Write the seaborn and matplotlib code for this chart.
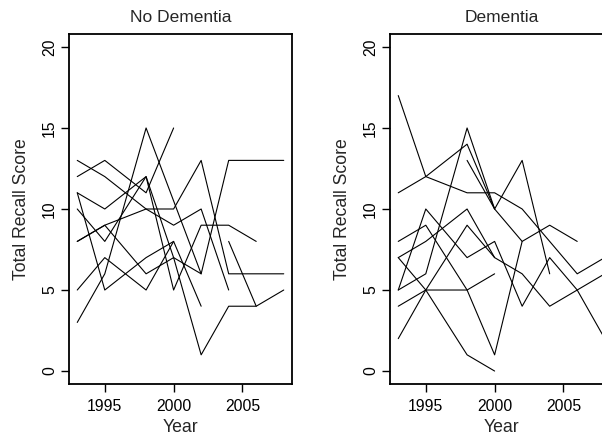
import numpy as np
import pandas as pd
import matplotlib
matplotlib.use("Agg")
import matplotlib.pyplot as plt
import seaborn as sns

years = [1993, 1995, 1998, 2000, 2002, 2004, 2006, 2008]
N = None

# No Dementia subjects (score per year, None = not observed)
nd_A = [12, 13, 11, 15, N, N, N, N]
nd_B = [13, 12, 10, 9, 10, 5, N, N]
nd_C = [3, 6, 15, N, 6, 13, 13, 13]
nd_D = [11, 10, 12, 5, 9, 9, 8, N]
nd_E = [11, 5, 7, 8, 4, N, N, N]
nd_F = [10, 8, 12, 7, 6, N, N, N]
nd_G = [8, 9, 10, 10, 13, 6, 6, 6]
nd_H = [8, 9, 6, 7, 1, 4, 4, 5]
nd_I = [5, 7, 5, 8, N, N, N, N]
nd_J = [N, N, N, N, N, 8, 4, N]

# Dementia subjects
de_A = [17, 12, 11, 11, 10, 8, 6, 7]
de_B = [11, 12, 14, 10, 8, 9, 8, N]
de_C = [5, 6, 15, 10, 13, 6, N, N]
de_D = [5, 10, 7, 8, 4, 7, 5, 2]
de_E = [8, 9, 5, 1, 8, N, N, N]
de_F = [2, 5, 9, 7, N, N, N, N]
de_G = [7, 8, 10, 7, 6, 4, 5, 6]
de_H = [4, 5, 5, 6, N, N, N, N]
de_I = [7, 5, 1, 0, N, N, N, N]
de_J = [N, N, 13, 10, N, N, N, N]

groups = {
    "No Dementia": [nd_A, nd_B, nd_C, nd_D, nd_E, nd_F, nd_G, nd_H, nd_I, nd_J],
    "Dementia": [de_A, de_B, de_C, de_D, de_E, de_F, de_G, de_H, de_I, de_J],
}

rows = []
for g, subjects in groups.items():
    for i, s in enumerate(subjects):
        for yr, v in zip(years, s):
            if v is not None:
                rows.append({"group": g, "subject": f"{g}_{i}", "Year": yr, "score": v})
df = pd.DataFrame(rows)

sns.set_style("white")
plt.rcParams["font.family"] = ["Liberation Sans", "DejaVu Sans"]

W, H = 602, 436
fig = plt.figure(figsize=(W / 100, H / 100), dpi=100)
axL = fig.add_axes([69 / W, (H - 384) / H, 223 / W, 350 / H])
axR = fig.add_axes([390 / W, (H - 384) / H, 223 / W, 350 / H])

for ax, g in [(axL, "No Dementia"), (axR, "Dementia")]:
    sub = df[df["group"] == g]
    sns.lineplot(data=sub, x="Year", y="score", units="subject", estimator=None,
                 color="black", lw=0.8, ax=ax, sort=True, legend=False)
    ax.set_xlim(1992.4, 2008.6)
    ax.set_ylim(-0.8, 20.8)
    ax.set_xticks([1995, 2000, 2005])
    ax.set_yticks([0, 5, 10, 15, 20])
    for sp in ax.spines.values():
        sp.set_visible(True)
        sp.set_color("black")
        sp.set_linewidth(1.3)
    ax.tick_params(axis="both", direction="out", length=5.5, width=1.0,
                   colors="black", labelsize=11.3, left=True, bottom=True)
    ax.tick_params(axis="x", pad=5)
    ax.tick_params(axis="y", pad=3)
    for lab in ax.get_yticklabels():
        lab.set_rotation(90)
        lab.set_va("center")
    ax.set_xlabel("Year", fontsize=12.7, labelpad=4.2)
    ax.set_ylabel("Total Recall Score", fontsize=12.7, labelpad=8.5)
    ax.set_title(g, fontsize=12.5, pad=8.5)
    ax.set_facecolor("white")

fig.savefig("out.png", dpi=100, facecolor="white")
